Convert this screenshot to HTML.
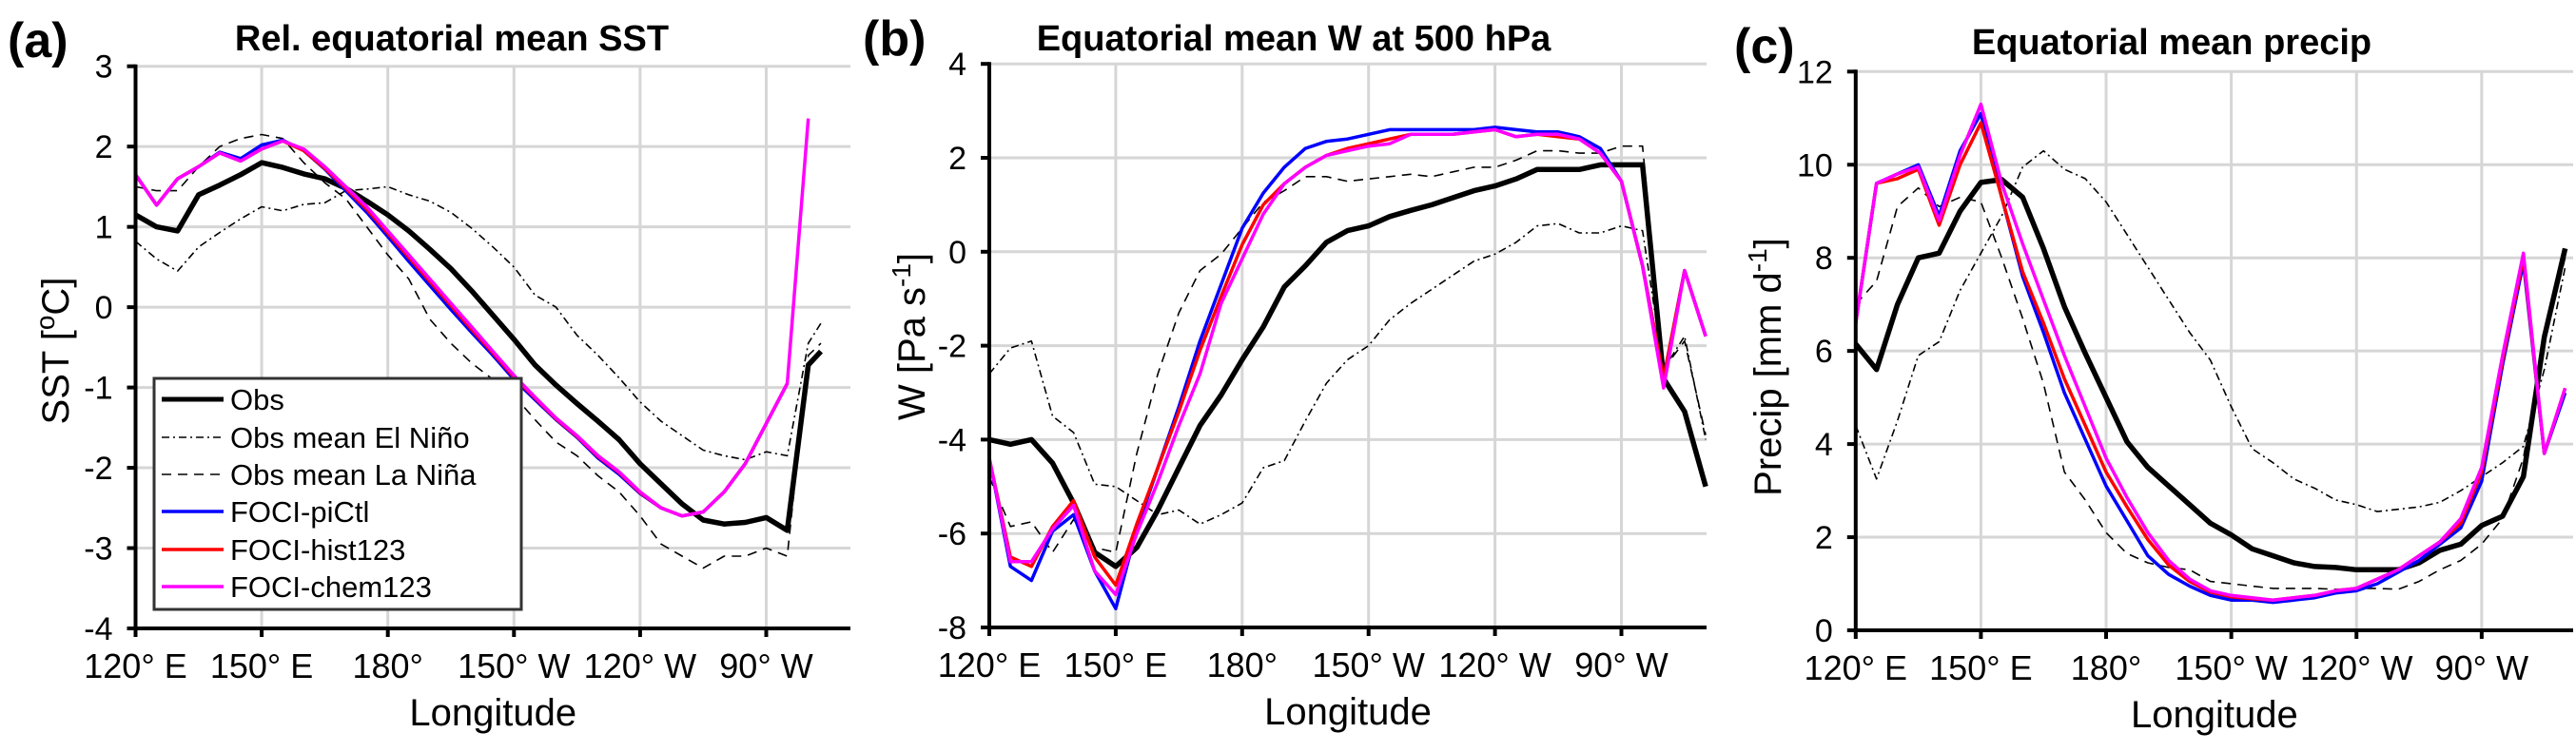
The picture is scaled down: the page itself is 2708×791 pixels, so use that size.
<!DOCTYPE html>
<html><head><meta charset="utf-8">
<style>
html,body{margin:0;padding:0;background:#fff;}
svg{display:block;font-family:"Liberation Sans",Arial,sans-serif;}
</style></head>
<body>
<svg id="fig" width="2708" height="791" viewBox="0 0 2708 791" xmlns="http://www.w3.org/2000/svg">
<rect x="0" y="0" width="2708" height="791" fill="#fff"/>
<g id="panels"></g>
<g>
  <rect x="162" y="398" width="386" height="243" fill="#fff" stroke="#333" stroke-width="3"/>
  <g><line x1="170" y1="420" x2="235" y2="420" stroke="#000" stroke-width="5"/><text x="242" y="431" font-size="31">Obs</text></g>
  <g><line x1="170" y1="460" x2="235" y2="460" stroke="#000" stroke-width="1.5" stroke-dasharray="8,4,2,4"/><text x="242" y="471" font-size="31">Obs mean El Niño</text></g>
  <g><line x1="170" y1="499" x2="235" y2="499" stroke="#000" stroke-width="1.5" stroke-dasharray="10,7"/><text x="242" y="510" font-size="31">Obs mean La Niña</text></g>
  <g><line x1="170" y1="538" x2="235" y2="538" stroke="#0000ff" stroke-width="3.5"/><text x="242" y="549" font-size="31">FOCI-piCtl</text></g>
  <g><line x1="170" y1="578" x2="235" y2="578" stroke="#ff0000" stroke-width="3.5"/><text x="242" y="589" font-size="31">FOCI-hist123</text></g>
  <g><line x1="170" y1="617" x2="235" y2="617" stroke="#ff00ff" stroke-width="3.5"/><text x="242" y="628" font-size="31">FOCI-chem123</text></g>
</g>
</svg>
<script>
// ---------- Panel (a) SST ----------
const lonA = [120,125,130,135,140,145,150,155,160,165,170,175,180,185,190,195,200,205,210,215,220,225,230,235,240,245,250,255,260,265,270,275,280,283];
const sstObs = [1.15,1.0,0.95,1.4,1.52,1.65,1.8,1.74,1.66,1.6,1.48,1.32,1.15,0.95,0.72,0.48,0.2,-0.1,-0.4,-0.72,-0.97,-1.2,-1.42,-1.65,-1.95,-2.2,-2.45,-2.65,-2.7,-2.68,-2.62,-2.78,-0.72,-0.55];
const sstNino = [0.82,0.6,0.45,0.75,0.93,1.1,1.25,1.2,1.28,1.3,1.45,1.47,1.5,1.4,1.32,1.18,0.98,0.75,0.5,0.15,0.0,-0.35,-0.6,-0.88,-1.18,-1.42,-1.6,-1.78,-1.85,-1.9,-1.8,-1.85,-0.45,-0.2];
const sstNina = [1.5,1.45,1.45,1.75,2.0,2.1,2.15,2.1,1.8,1.55,1.35,1.0,0.65,0.35,-0.15,-0.45,-0.7,-0.9,-1.1,-1.4,-1.68,-1.85,-2.1,-2.3,-2.6,-2.95,-3.1,-3.25,-3.1,-3.1,-3.0,-3.1,-0.6,-0.45];
const sstPiCtl = [1.65,1.27,1.6,1.75,1.93,1.85,2.02,2.08,1.95,1.72,1.45,1.18,0.88,0.57,0.27,-0.03,-0.32,-0.6,-0.9,-1.15,-1.4,-1.62,-1.88,-2.08,-2.32,-2.5,-2.6,-2.55,-2.3,-1.95,-1.45,-0.95];
const sstHist = [1.65,1.27,1.6,1.75,1.92,1.82,1.97,2.07,1.95,1.73,1.48,1.22,0.92,0.62,0.32,0.02,-0.28,-0.57,-0.87,-1.13,-1.39,-1.61,-1.86,-2.06,-2.31,-2.5,-2.6,-2.55,-2.3,-1.95,-1.45,-0.95];
const sstChem = [1.65,1.27,1.6,1.75,1.92,1.82,1.97,2.07,1.97,1.75,1.5,1.25,0.95,0.65,0.35,0.05,-0.25,-0.55,-0.85,-1.12,-1.38,-1.6,-1.85,-2.05,-2.3,-2.5,-2.6,-2.55,-2.3,-1.95,-1.45,-0.95,2.35];
const sstTicks = [3,2,1,0,-1,-2,-3,-4];

// ---------- Panel (b) W ----------
const lonB = [120,125,130,135,140,145,150,155,160,165,170,175,180,185,190,195,200,205,210,215,220,225,230,235,240,245,250,255,260,265,270,275,280,285,290];
const wObs = [-4.0,-4.1,-4.0,-4.5,-5.35,-6.4,-6.7,-6.3,-5.5,-4.6,-3.7,-3.05,-2.3,-1.6,-0.75,-0.3,0.2,0.45,0.55,0.75,0.88,1.0,1.15,1.3,1.4,1.55,1.75,1.75,1.75,1.85,1.85,1.85,-2.7,-3.4,-5.0];
const wNino = [-2.6,-2.05,-1.9,-3.5,-3.85,-4.95,-5.0,-5.3,-5.6,-5.5,-5.8,-5.6,-5.35,-4.6,-4.45,-3.6,-2.8,-2.3,-2.0,-1.45,-1.1,-0.8,-0.5,-0.2,-0.05,0.2,0.55,0.6,0.4,0.4,0.55,0.45,-2.5,-1.8,-4.0];
const wNina = [-4.8,-5.85,-5.75,-6.4,-5.7,-6.3,-6.4,-4.3,-2.6,-1.3,-0.4,-0.05,0.5,1.05,1.3,1.6,1.6,1.5,1.55,1.6,1.65,1.6,1.7,1.8,1.8,1.95,2.15,2.15,2.1,2.1,2.25,2.25,-2.5,-1.9,-3.9];
const wPiCtl = [-4.4,-6.7,-7.0,-5.95,-5.6,-6.8,-7.6,-5.9,-4.6,-3.3,-1.9,-0.7,0.5,1.25,1.8,2.2,2.35,2.4,2.5,2.6,2.6,2.6,2.6,2.6,2.65,2.6,2.55,2.55,2.45,2.2,1.5,-0.3,-2.7,-0.4,-1.8];
const wHist = [-4.4,-6.5,-6.7,-5.85,-5.3,-6.5,-7.1,-5.8,-4.6,-3.4,-2.1,-0.95,0.15,1.0,1.45,1.8,2.05,2.2,2.3,2.4,2.5,2.5,2.5,2.55,2.6,2.45,2.5,2.45,2.4,2.1,1.5,-0.3,-2.7,-0.4,-1.8];
const wChem = [-4.4,-6.6,-6.6,-5.9,-5.4,-6.8,-7.3,-6.0,-4.9,-3.7,-2.6,-1.1,-0.15,0.8,1.45,1.8,2.05,2.15,2.25,2.3,2.5,2.5,2.5,2.55,2.6,2.45,2.5,2.5,2.4,2.1,1.5,-0.3,-2.9,-0.4,-1.8];
const wTicks = [4,2,0,-2,-4,-6,-8];

// ---------- Panel (c) Precip ----------
const lonC = [120,125,130,135,140,145,150,155,160,165,170,175,180,185,190,195,200,205,210,215,220,225,230,235,240,245,250,255,260,265,270,275,280,285,290];
const prObs = [6.15,5.6,7.0,8.0,8.1,9.0,9.62,9.68,9.3,8.2,6.95,5.95,5.0,4.05,3.5,3.1,2.7,2.3,2.05,1.75,1.6,1.45,1.37,1.35,1.3,1.3,1.3,1.45,1.72,1.85,2.25,2.45,3.3,6.3,8.2];
const prNino = [4.4,3.25,4.5,5.9,6.2,7.3,8.1,8.9,9.95,10.3,9.9,9.7,9.2,8.5,7.8,7.1,6.4,5.8,4.8,3.9,3.6,3.25,3.05,2.8,2.7,2.55,2.6,2.65,2.75,3.0,3.3,3.6,3.95,5.6,7.8];
const prNina = [7.0,7.5,9.1,9.5,9.1,9.3,9.2,8.0,6.7,5.3,3.4,2.8,2.1,1.65,1.45,1.35,1.3,1.05,1.0,0.95,0.9,0.9,0.9,0.88,0.9,0.9,0.88,1.05,1.3,1.5,1.85,2.4,3.7,6.2,8.0];
const prPiCtl = [6.6,9.6,9.8,10.0,8.9,10.3,11.1,9.3,7.6,6.4,5.1,4.1,3.1,2.35,1.6,1.2,0.95,0.75,0.65,0.65,0.6,0.65,0.7,0.8,0.85,1.0,1.25,1.5,1.85,2.2,3.2,5.7,7.9,3.8,5.1];
const prHist = [6.6,9.6,9.7,9.9,8.7,10.0,10.9,9.3,7.7,6.6,5.4,4.4,3.4,2.65,1.95,1.4,1.05,0.82,0.72,0.68,0.65,0.7,0.75,0.85,0.9,1.1,1.3,1.6,1.9,2.3,3.4,5.8,8.0,3.8,5.2];
const prChem = [6.6,9.6,9.8,9.95,8.8,10.2,11.3,9.6,8.3,7.1,5.9,4.8,3.7,2.85,2.1,1.5,1.1,0.85,0.75,0.7,0.65,0.7,0.75,0.85,0.9,1.1,1.3,1.6,1.9,2.4,3.5,5.9,8.1,3.8,5.2];
const prTicks = [12,10,8,6,4,2,0];

const xTickLons = [120,150,180,210,240,270];
const xTickLabels = ["120° E","150° E","180°","150° W","120° W","90° W"];

const NS = "http://www.w3.org/2000/svg";
const root = document.getElementById("panels");
function mk(tag, attrs, parent){
  const e = document.createElementNS(NS, tag);
  for (const k in attrs) e.setAttribute(k, attrs[k]);
  (parent||root).appendChild(e);
  return e;
}

function panel(p){
  const g = mk("g", {});
  
  
  const sx = lon => p.x0 + (lon - 120) * p.pxDeg;
  const sy = v => p.yTop + (p.vMax - v) / (p.vMax - p.vMin) * (p.yBot - p.yTop);
  p.ticks.forEach(t => {
    const l = mk("line", {x1:p.x0, x2:p.xR, y1:sy(t), y2:sy(t), stroke:"#d6d6d6", "stroke-width":3}, g);
    
    
  });
  xTickLons.forEach(t => {
    const l = mk("line", {x1:sx(t), x2:sx(t), y1:p.yTop, y2:p.yBot, stroke:"#d6d6d6", "stroke-width":3}, g);
    
    
  });
  p.series.forEach(s => {
    const pts = s.vals.map((v,i) => sx(s.lon[i]).toFixed(1) + "," + sy(v).toFixed(1)).join(" ");
    const a = {points:pts, fill:"none", stroke:s.color, "stroke-width":s.w, "stroke-linejoin":"round"};
    if (s.dash) a["stroke-dasharray"] = s.dash;
    const pl = mk("polyline", a, g);
    
    
  });
  const ya = mk("line", {x1:p.x0, x2:p.x0, y1:p.yTop-2, y2:p.yBot+2, stroke:"#000", "stroke-width":4}, g);
  
  
  const xa = mk("line", {x1:p.x0-2, x2:p.xR, y1:p.yBot, y2:p.yBot, stroke:"#000", "stroke-width":4}, g);
  
  
  p.ticks.forEach(t => {
    mk("line", {x1:p.x0-9, x2:p.x0, y1:sy(t), y2:sy(t), stroke:"#000", "stroke-width":4}, g);
    const tx = mk("text", {x:p.x0-24, y:sy(t)+12, "font-size":34, "text-anchor":"end"}, g);
    tx.textContent = String(t);
    
    
  });
  xTickLons.forEach((t,i) => {
    mk("line", {x1:sx(t), x2:sx(t), y1:p.yBot, y2:p.yBot+9, stroke:"#000", "stroke-width":4}, g);
    const tx = mk("text", {x:sx(t), y:p.yBot+52, "font-size":36, "text-anchor":"middle"}, g);
    tx.textContent = xTickLabels[i];
    
    
  });
  const xl = mk("text", {x:(p.x0+p.xR)/2, y:p.yBot+102, "font-size":40, "text-anchor":"middle"}, g);
  xl.textContent = "Longitude";
  
  
  const yl = mk("text", {x:0, y:0, "font-size":40, "text-anchor":"middle", transform:"translate("+p.ylx+","+p.yly+") rotate(-90)"}, g);
  yl.innerHTML = p.ylabel;
  
  
  const tt = mk("text", {x:p.titleX, y:p.titleY, "font-size":38, "font-weight":"bold", "text-anchor":"middle"}, g);
  tt.textContent = p.title;
  
  
  const pl = mk("text", {x:p.labX, y:p.labY, "font-size":52, "font-weight":"bold"}, g);
  pl.textContent = p.lab;
  
  
}

function std(lon, obs, nino, nina, pi, hi, ch){
  return [
    {name:"series-la-nina", lon:lon, vals:nina, color:"#000", w:1.6, dash:"10,7"},
    {name:"series-el-nino", lon:lon, vals:nino, color:"#000", w:1.6, dash:"8,4,2,4"},
    {name:"series-obs", lon:lon, vals:obs, color:"#000", w:5.5},
    {name:"series-foci-pictl", lon:lon, vals:pi, color:"#0000ff", w:3.5},
    {name:"series-foci-hist123", lon:lon, vals:hi, color:"#ff0000", w:3.5},
    {name:"series-foci-chem123", lon:lon, vals:ch, color:"#ff00ff", w:3.5}
  ];
}

panel({id:"panel-a-sst", x0:142.5, pxDeg:4.42, xR:894, yTop:69.7, yBot:661, vMax:3, vMin:-4,
  ticks:sstTicks, series:std(lonA, sstObs, sstNino, sstNina, sstPiCtl, sstHist, sstChem),
  ylabel:'SST [<tspan baseline-shift="super" font-size="28">o</tspan>C]', ylx:72, yly:369,
  title:"Rel. equatorial mean SST", titleX:475, titleY:53, lab:"(a)", labX:8, labY:60});
panel({id:"panel-b-w500", x0:1040, pxDeg:4.43, xR:1794, yTop:67.2, yBot:660, vMax:4, vMin:-8,
  ticks:wTicks, series:std(lonB, wObs, wNino, wNina, wPiCtl, wHist, wChem),
  ylabel:'W [Pa s<tspan baseline-shift="super" font-size="28">-1</tspan>]', ylx:972, yly:354,
  title:"Equatorial mean W at 500 hPa", titleX:1360, titleY:53, lab:"(b)", labX:907, labY:58});
panel({id:"panel-c-precip", x0:1950.8, pxDeg:4.387, xR:2705, yTop:75.3, yBot:663, vMax:12, vMin:0,
  ticks:prTicks, series:std(lonC, prObs, prNino, prNina, prPiCtl, prHist, prChem),
  ylabel:'Precip [mm d<tspan baseline-shift="super" font-size="28">-1</tspan>]', ylx:1872, yly:386,
  title:"Equatorial mean precip", titleX:2283, titleY:57, lab:"(c)", labX:1823, labY:66});
</script>
</body></html>
